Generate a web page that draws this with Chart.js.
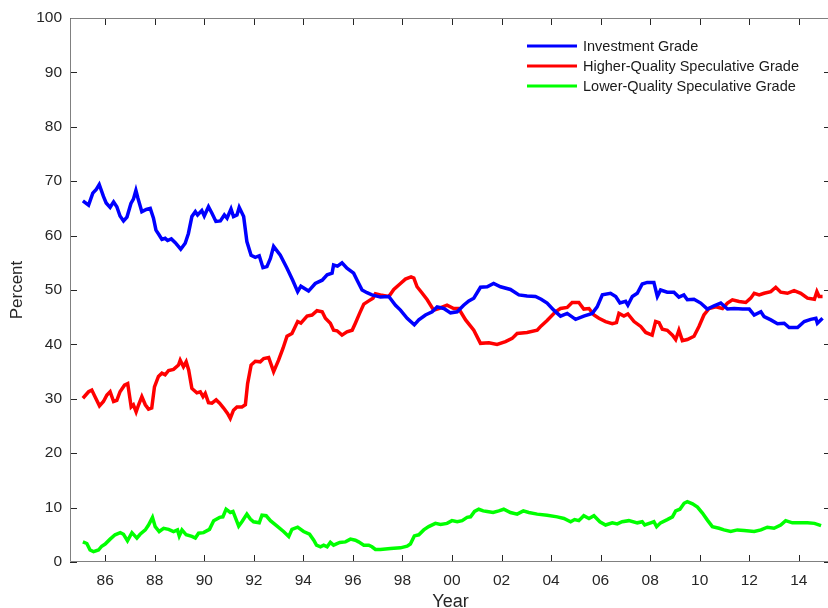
<!DOCTYPE html>
<html>
<head>
<meta charset="utf-8">
<script src="https://cdn.jsdelivr.net/npm/chart.js@4.4.0/dist/chart.umd.min.js"></script>
<style>
    html, body { margin: 0; padding: 0; background: #fff; overflow: hidden; }
    #wrap { width: 831px; height: 608px; position: relative; }
</style>
</head>
<body>
<div id="wrap"><canvas id="gradeChart"></canvas></div>
<script>
// tick labels on the x axis (years)
const tickYears = [1986, 1988, 1990, 1992, 1994, 1996, 1998, 2000, 2002, 2004, 2006, 2008, 2010, 2012, 2014];

const seriesLabels = ['Investment Grade', 'Higher-Quality Speculative Grade', 'Lower-Quality Speculative Grade'];

// Investment Grade
const invYears = [1985.1, 1985.33, 1985.5, 1985.64, 1985.76, 1985.93, 1986.04, 1986.2, 1986.34, 1986.47, 1986.6, 1986.74, 1986.88,
    1987.04, 1987.14, 1987.24, 1987.32, 1987.48, 1987.66, 1987.82, 1987.95, 1988.05, 1988.18, 1988.29, 1988.42, 1988.52, 1988.67,
    1988.83, 1989.05, 1989.23, 1989.36, 1989.5, 1989.64, 1989.73, 1989.9, 1990.0, 1990.17, 1990.31, 1990.47, 1990.65, 1990.81,
    1990.92, 1991.08, 1991.18, 1991.32, 1991.41, 1991.59, 1991.72, 1991.89, 1992.06, 1992.22, 1992.37, 1992.53, 1992.67, 1992.8,
    1993.07, 1993.34, 1993.57, 1993.77, 1993.9, 1994.21, 1994.48, 1994.76, 1994.96, 1995.16, 1995.22, 1995.38, 1995.56, 1995.76,
    1996.03, 1996.17, 1996.37, 1996.57, 1996.77, 1997.11, 1997.45, 1997.72, 1997.92, 1998.19, 1998.48, 1998.66, 1998.93, 1999.2,
    1999.4, 1999.67, 1999.94, 2000.21, 2000.47, 2000.68, 2000.88, 2001.15, 2001.42, 2001.68, 2001.96, 2002.36, 2002.7, 2003.03,
    2003.37, 2003.6, 2003.84, 2004.11, 2004.38, 2004.65, 2004.99, 2005.32, 2005.66, 2005.86, 2006.07, 2006.4, 2006.61, 2006.78,
    2007.01, 2007.1, 2007.28, 2007.48, 2007.68, 2007.88, 2008.15, 2008.29, 2008.42, 2008.69, 2008.96, 2009.16, 2009.36, 2009.5,
    2009.77, 2010.04, 2010.31, 2010.58, 2010.85, 2011.12, 2011.39, 2011.73, 2012.0, 2012.2, 2012.47, 2012.6, 2012.87, 2013.14,
    2013.41, 2013.61, 2013.95, 2014.22, 2014.48, 2014.69, 2014.75, 2014.96];
const invValues = [66.4, 65.6, 67.8, 68.5, 69.4, 67.2, 66.0, 65.2, 66.2, 65.3, 63.6, 62.7, 63.4,
    65.9, 66.7, 68.3, 66.9, 64.4, 64.8, 65.0, 63.2, 61.0, 60.1, 59.3, 59.5, 59.1, 59.4,
    58.7, 57.5, 58.6, 60.4, 63.5, 64.4, 63.8, 64.6, 63.6, 65.3, 64.1, 62.6, 62.7, 63.8,
    63.2, 64.9, 63.5, 63.8, 65.2, 63.5, 58.9, 56.4, 56.0, 56.3, 54.1, 54.3, 55.8, 58.0,
    56.4, 54.0, 51.8, 49.7, 50.7, 49.8, 51.2, 51.8, 52.8, 53.1, 54.6, 54.4, 55.0, 54.0,
    53.1, 51.8, 50.0, 49.5, 49.1, 48.7, 48.8, 47.2, 46.3, 44.8, 43.6, 44.5, 45.4, 46.0,
    46.9, 46.6, 45.8, 46.0, 47.2, 48.0, 48.5, 50.5, 50.6, 51.2, 50.6, 50.1, 49.1, 48.9,
    48.8, 48.3, 47.6, 46.3, 45.2, 45.7, 44.6, 45.2, 45.7, 46.9, 49.1, 49.4, 48.8, 47.6,
    47.9, 47.2, 48.8, 49.4, 51.1, 51.4, 51.4, 48.8, 50.0, 49.6, 49.6, 48.7, 49.1, 48.2,
    48.3, 47.6, 46.5, 47.1, 47.6, 46.5, 46.6, 46.5, 46.5, 45.4, 46.0, 45.1, 44.5, 43.8,
    43.9, 43.1, 43.1, 44.2, 44.6, 44.8, 43.9, 44.8];

// Higher-Quality Speculative Grade
const hqYears = [1985.1, 1985.33, 1985.46, 1985.6, 1985.77, 1985.93, 1986.07, 1986.2, 1986.34, 1986.47, 1986.6, 1986.78, 1986.91,
    1987.05, 1987.14, 1987.25, 1987.35, 1987.48, 1987.62, 1987.75, 1987.88, 1987.99, 1988.15, 1988.29, 1988.42, 1988.56, 1988.76,
    1988.96, 1989.03, 1989.16, 1989.27, 1989.37, 1989.5, 1989.7, 1989.84, 1989.95, 1990.04, 1990.17, 1990.31, 1990.48, 1990.62,
    1990.78, 1990.94, 1991.05, 1991.18, 1991.32, 1991.52, 1991.66, 1991.75, 1991.89, 1992.06, 1992.26, 1992.4, 1992.6, 1992.8,
    1993.0, 1993.18, 1993.34, 1993.54, 1993.77, 1993.9, 1994.15, 1994.35, 1994.55, 1994.76, 1994.89, 1995.09, 1995.22, 1995.36,
    1995.56, 1995.76, 1995.97, 1996.1, 1996.27, 1996.44, 1996.64, 1996.81, 1996.91, 1997.11, 1997.45, 1997.65, 1997.92, 1998.12,
    1998.35, 1998.46, 1998.59, 1998.8, 1999.0, 1999.26, 1999.47, 1999.8, 2000.07, 2000.27, 2000.55, 2000.88, 2001.15, 2001.49,
    2001.82, 2002.16, 2002.43, 2002.63, 2003.03, 2003.44, 2003.6, 2003.84, 2004.18, 2004.38, 2004.65, 2004.85, 2005.12, 2005.32,
    2005.53, 2005.73, 2005.93, 2006.2, 2006.47, 2006.64, 2006.74, 2006.94, 2007.1, 2007.35, 2007.62, 2007.82, 2008.08, 2008.22,
    2008.36, 2008.49, 2008.69, 2008.9, 2009.03, 2009.16, 2009.3, 2009.5, 2009.77, 2009.97, 2010.17, 2010.38, 2010.65, 2010.92,
    2011.12, 2011.32, 2011.59, 2011.86, 2012.06, 2012.2, 2012.4, 2012.6, 2012.87, 2013.07, 2013.27, 2013.54, 2013.81, 2014.08,
    2014.35, 2014.63, 2014.73, 2014.82, 2014.96];
const hqValues = [30.1, 31.3, 31.6, 30.3, 28.7, 29.5, 30.7, 31.3, 29.5, 29.7, 31.3, 32.5, 32.8,
    28.5, 28.9, 27.6, 28.9, 30.4, 28.9, 28.1, 28.3, 32.2, 34.1, 34.7, 34.4, 35.2, 35.4,
    36.2, 37.1, 35.9, 36.8, 35.3, 31.9, 31.1, 31.3, 30.4, 31.0, 29.3, 29.2, 29.8, 29.2,
    28.3, 27.3, 26.4, 27.9, 28.5, 28.5, 28.9, 32.8, 36.2, 36.9, 36.8, 37.4, 37.6, 35.0,
    37.1, 39.3, 41.5, 42.0, 44.2, 43.9, 45.2, 45.4, 46.2, 46.0, 44.8, 43.9, 42.6, 42.5,
    41.7, 42.3, 42.6, 43.9, 45.7, 47.4, 48.0, 48.5, 49.3, 49.1, 48.8, 50.1, 51.2, 52.0,
    52.4, 52.2, 50.6, 49.4, 48.2, 46.3, 46.6, 47.2, 46.6, 46.6, 44.5, 42.6, 40.2, 40.3,
    40.0, 40.5, 41.1, 42.0, 42.2, 42.6, 43.4, 44.4, 46.0, 46.6, 46.8, 47.7, 47.7, 46.5,
    46.6, 45.4, 44.8, 44.2, 43.8, 44.0, 45.7, 45.2, 45.6, 44.2, 43.3, 42.2, 41.7, 44.2,
    44.0, 42.8, 42.6, 41.7, 40.9, 42.6, 40.7, 40.9, 41.5, 43.3, 45.4, 46.6, 46.9, 46.6,
    47.6, 48.2, 47.9, 47.7, 48.5, 49.4, 49.1, 49.4, 49.7, 50.5, 49.6, 49.4, 49.9, 49.4,
    48.5, 48.3, 49.7, 48.8, 48.8];

// Lower-Quality Speculative Grade
const lqYears = [1985.1, 1985.26, 1985.39, 1985.53, 1985.73, 1985.86, 1986.0, 1986.2, 1986.4, 1986.61, 1986.74, 1986.9,
    1987.08, 1987.28, 1987.41, 1987.62, 1987.75, 1987.91, 1988.02, 1988.18, 1988.36, 1988.56, 1988.76, 1988.92, 1988.99,
    1989.1, 1989.27, 1989.5, 1989.64, 1989.77, 1989.97, 1990.21, 1990.38, 1990.62, 1990.75, 1990.88, 1991.05, 1991.16,
    1991.39, 1991.52, 1991.72, 1991.86, 1991.99, 1992.22, 1992.33, 1992.5, 1992.67, 1992.94, 1993.2, 1993.41, 1993.54,
    1993.77, 1994.01, 1994.25, 1994.42, 1994.53, 1994.69, 1994.82, 1994.96, 1995.09, 1995.22, 1995.47, 1995.7, 1995.9,
    1996.1, 1996.23, 1996.44, 1996.64, 1996.77, 1996.91, 1997.11, 1997.52, 1997.92, 1998.19, 1998.32, 1998.48, 1998.66,
    1998.86, 1999.06, 1999.33, 1999.54, 1999.8, 2000.0, 2000.21, 2000.41, 2000.61, 2000.75, 2000.91, 2001.08, 2001.26,
    2001.42, 2001.66, 2001.89, 2002.09, 2002.36, 2002.63, 2002.88, 2003.1, 2003.44, 2003.84, 2004.25, 2004.52, 2004.79,
    2004.95, 2005.12, 2005.32, 2005.53, 2005.73, 2005.97, 2006.2, 2006.47, 2006.67, 2006.87, 2007.14, 2007.48, 2007.68,
    2007.78, 2008.02, 2008.15, 2008.26, 2008.42, 2008.69, 2008.9, 2009.03, 2009.2, 2009.37, 2009.5, 2009.71, 2009.91,
    2010.11, 2010.31, 2010.51, 2010.78, 2010.98, 2011.25, 2011.52, 2011.79, 2012.2, 2012.47, 2012.73, 2013.0, 2013.27,
    2013.47, 2013.74, 2014.08, 2014.35, 2014.63, 2014.9];
const lqValues = [3.7, 3.4, 2.2, 1.9, 2.2, 2.9, 3.3, 4.2, 5.0, 5.4, 5.1, 3.9,
    5.4, 4.4, 5.1, 5.9, 6.8, 8.2, 6.5, 5.6, 6.2, 6.0, 5.6, 5.9, 4.8,
    5.9, 5.0, 4.7, 4.4, 5.3, 5.4, 6.0, 7.6, 8.2, 8.3, 9.7, 9.1, 9.3,
    6.6, 7.4, 8.8, 7.9, 7.4, 7.2, 8.6, 8.5, 7.6, 6.6, 5.6, 4.7, 6.0,
    6.4, 5.6, 5.1, 4.0, 3.1, 2.8, 3.1, 2.8, 3.6, 3.1, 3.6, 3.7, 4.2,
    4.0, 3.7, 3.1, 3.1, 2.8, 2.3, 2.3, 2.5, 2.6, 2.9, 3.3, 4.8, 5.0,
    5.9, 6.5, 7.1, 6.9, 7.1, 7.6, 7.4, 7.6, 8.2, 8.3, 9.3, 9.7, 9.4,
    9.3, 9.1, 9.4, 9.7, 9.1, 8.8, 9.4, 9.1, 8.8, 8.6, 8.3, 8.0, 7.4,
    7.8, 7.6, 8.5, 8.0, 8.5, 7.4, 6.8, 7.2, 7.0, 7.4, 7.6, 7.2, 7.4,
    6.8, 7.2, 7.4, 6.5, 7.2, 7.8, 8.3, 9.4, 9.7, 10.8, 11.1, 10.7, 10.1,
    9.0, 7.7, 6.5, 6.2, 5.9, 5.6, 5.9, 5.8, 5.6, 5.9, 6.4, 6.2, 6.8,
    7.6, 7.2, 7.2, 7.2, 7.1, 6.7];

const lineColors = ['#0000ff', '#ff0000', '#00ff00'];
const FONT = '"Liberation Sans", Arial, Helvetica, sans-serif';
const TEXT_COLOR = '#262626';

function toPoints(xs, ys) {
    return xs.map((x, i) => ({ x: x, y: ys[i] }));
}

// box around the plot with inward tick marks (matlab style)
const frameTicks = {
    id: 'frameTicks',
    afterDatasetsDraw(chart) {
        const { ctx, chartArea: a, scales } = chart;
        const len = 7;
        ctx.save();
        ctx.lineWidth = 1;
        ctx.strokeStyle = '#262626';
        ctx.beginPath();
        scales.x.ticks.forEach(t => {
            const px = Math.round(scales.x.getPixelForValue(t.value)) + 0.5;
            ctx.moveTo(px, a.bottom); ctx.lineTo(px, a.bottom - len);
            ctx.moveTo(px, a.top); ctx.lineTo(px, a.top + len);
        });
        scales.y.ticks.forEach(t => {
            const py = Math.round(scales.y.getPixelForValue(t.value)) + 0.5;
            ctx.moveTo(a.left, py); ctx.lineTo(a.left + len, py);
            ctx.moveTo(a.right, py); ctx.lineTo(a.right - len, py);
        });
        ctx.stroke();
        ctx.strokeStyle = '#808080';
        ctx.beginPath();
        ctx.moveTo(a.left + 0.5, a.top + 0.5);
        ctx.lineTo(a.right - 0.5, a.top + 0.5);
        ctx.lineTo(a.right - 0.5, a.bottom - 0.5);
        ctx.lineTo(a.left + 0.5, a.bottom - 0.5);
        ctx.closePath();
        ctx.stroke();
        ctx.restore();
    }
};

// legend in the upper right corner, lines + labels
const lineLegend = {
    id: 'lineLegend',
    afterDraw(chart) {
        const ctx = chart.ctx;
        ctx.save();
        ctx.font = '14.5px ' + FONT;
        ctx.textBaseline = 'middle';
        ctx.fillStyle = '#1a1a1a';
        chart.data.datasets.forEach((ds, i) => {
            const y = 46 + i * 20;
            ctx.strokeStyle = ds.borderColor;
            ctx.lineWidth = 3;
            ctx.beginPath();
            ctx.moveTo(527, y);
            ctx.lineTo(577, y);
            ctx.stroke();
            ctx.fillText(ds.label, 583, y + 0.5);
        });
        ctx.restore();
    }
};

function loadGradeChart() {
    const seriesYears = [invYears, hqYears, lqYears];
    const seriesValues = [invValues, hqValues, lqValues];

    const ctx = document.getElementById('gradeChart').getContext('2d');
    new Chart(ctx, {
        type: 'line',
        data: {
            datasets: seriesLabels.map((label, i) => ({
                label: label,
                data: toPoints(seriesYears[i], seriesValues[i]),
                borderColor: lineColors[i],
                backgroundColor: lineColors[i],
                borderWidth: 3.5,
                pointRadius: 0,
                tension: 0,
                fill: false
            }))
        },
        options: {
            responsive: true,
            maintainAspectRatio: false,
            animation: false,
            layout: { padding: { top: 18, right: 0, bottom: 0, left: 0 } },
            plugins: {
                legend: { display: false },
                tooltip: { enabled: false }
            },
            scales: {
                x: {
                    type: 'linear',
                    min: 1984.58,
                    max: 2015.3,
                    grid: { display: false, drawTicks: false, tickLength: 0 },
                    border: { display: false },
                    afterBuildTicks: scale => { scale.ticks = tickYears.map(v => ({ value: v })); },
                    afterFit: scale => { scale.height = 46; },
                    ticks: {
                        padding: 9,
                        maxRotation: 0,
                        color: TEXT_COLOR,
                        font: { family: FONT, size: 15.5 },
                        callback: v => String(v % 100).padStart(2, '0')
                    },
                    title: {
                        display: true,
                        text: 'Year',
                        color: TEXT_COLOR,
                        font: { family: FONT, size: 18, lineHeight: 0.7 },
                        padding: 0
                    }
                },
                y: {
                    min: 0,
                    max: 100,
                    grid: { display: false, drawTicks: false, tickLength: 0 },
                    border: { display: false },
                    afterFit: scale => { scale.width = 70; },
                    ticks: {
                        stepSize: 10,
                        padding: 8,
                        color: TEXT_COLOR,
                        font: { family: FONT, size: 15.5 }
                    },
                    title: {
                        display: true,
                        text: 'Percent',
                        color: TEXT_COLOR,
                        font: { family: FONT, size: 17, lineHeight: 1.2 },
                        padding: { top: 7, bottom: 0 }
                    }
                }
            }
        },
        plugins: [frameTicks, lineLegend]
    });
}

loadGradeChart();
</script>
</body>
</html>
